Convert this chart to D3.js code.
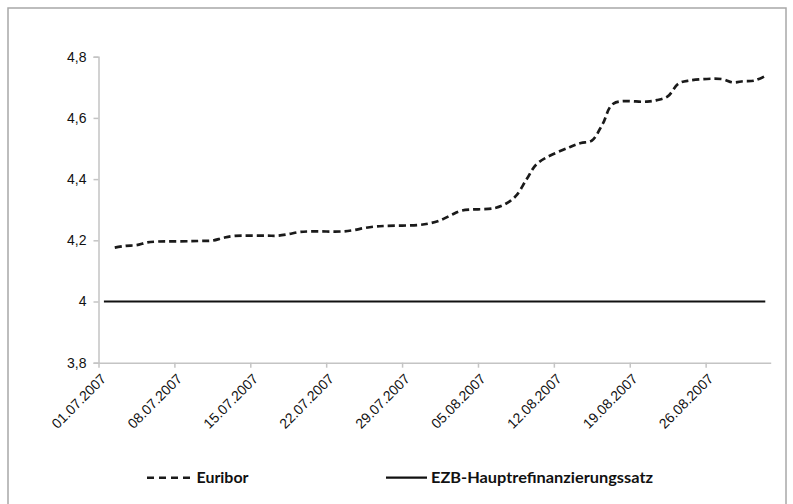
<!DOCTYPE html>
<html><head><meta charset="utf-8">
<script src="https://cdn.jsdelivr.net/npm/d3@7"></script>
<style>html,body{margin:0;padding:0;background:#fff;}svg{display:block;}</style>
</head><body>
<script>
// ---- data ----
const euriborDates = ["2007-07-02","2007-07-03","2007-07-04","2007-07-05","2007-07-06",
  "2007-07-09","2007-07-10","2007-07-11","2007-07-12","2007-07-13",
  "2007-07-16","2007-07-17","2007-07-18","2007-07-19","2007-07-20",
  "2007-07-23","2007-07-24","2007-07-25","2007-07-26","2007-07-27",
  "2007-07-30","2007-07-31","2007-08-01","2007-08-02","2007-08-03",
  "2007-08-06","2007-08-07","2007-08-08","2007-08-09","2007-08-10",
  "2007-08-13","2007-08-14","2007-08-15","2007-08-16","2007-08-17",
  "2007-08-20","2007-08-21","2007-08-22","2007-08-23","2007-08-24",
  "2007-08-27","2007-08-28","2007-08-29","2007-08-30","2007-08-31"];
const euriborValues = [4.176,4.182,4.184,4.193,4.196,
  4.197,4.198,4.199,4.208,4.214,
  4.215,4.215,4.220,4.227,4.229,
  4.229,4.233,4.240,4.245,4.247,
  4.250,4.255,4.265,4.282,4.297,
  4.305,4.318,4.345,4.400,4.452,
  4.505,4.518,4.526,4.580,4.647,
  4.653,4.658,4.670,4.712,4.722,
  4.727,4.716,4.720,4.722,4.737];
const ezbDates = ["2007-07-01","2007-08-31"];
const ezbValues = [4.0, 4.0];
const xTickDates = ["2007-07-01","2007-07-08","2007-07-15","2007-07-22","2007-07-29",
  "2007-08-05","2007-08-12","2007-08-19","2007-08-26"];
const xTickLabels = ["01.07.2007","08.07.2007","15.07.2007","22.07.2007","29.07.2007",
  "05.08.2007","12.08.2007","19.08.2007","26.08.2007"];
const yTicks = [3.8, 4.0, 4.2, 4.4, 4.6, 4.8];
const yTickLabels = ["3,8","4","4,2","4,4","4,6","4,8"];
const seriesNames = ["Euribor","EZB-Hauptrefinanzierungssatz"];
const xDomain = ["2007-07-01","2007-09-01"];

// ---- drawing ----
const W = 793, H = 504;
const svg = d3.select("body").append("svg").attr("width", W).attr("height", H);
svg.append("rect").attr("x",8).attr("y",8).attr("width",778).attr("height",510)
  .attr("fill","none").attr("stroke","#a8a8a8").attr("stroke-width",1.5);

const parse = d3.utcParse("%Y-%m-%d");
const halfDay = 12*3600*1000;
const x = d3.scaleUtc().domain(xDomain.map(parse)).range([98.5, 770.7]);
const y = d3.scaleLinear().domain([3.8, 4.8]).range([362.7, 56.7]);

const axisCol = "#c4c4c4";
const tickFont = "'Liberation Sans', Arimo, Arial, sans-serif";
// y axis
const yAx = svg.append("g").attr("transform","translate(98.5,0)")
  .call(d3.axisLeft(y).tickValues(yTicks).tickSize(5).tickPadding(7)
    .tickFormat((d,i)=>yTickLabels[i]));
yAx.attr("font-family", null);
yAx.select(".domain").attr("stroke",axisCol).attr("stroke-width",1.5);
yAx.selectAll(".tick line").attr("stroke",axisCol).attr("stroke-width",1.5);
yAx.selectAll(".tick text").style("font-family",tickFont)
  .attr("font-size",14).attr("fill","#111");

// x axis
const xAx = svg.append("g").attr("transform","translate(0,362.7)")
  .call(d3.axisBottom(x).tickValues(xTickDates.map(parse)).tickSize(5)
    .tickSizeOuter(0).tickFormat((d,i)=>xTickLabels[i]));
xAx.attr("font-family", null);
xAx.select(".domain").attr("stroke",axisCol).attr("stroke-width",1.5);
xAx.selectAll(".tick line").attr("stroke",axisCol).attr("stroke-width",1.5);
xAx.selectAll(".tick text")
  .style("font-family",tickFont).attr("font-size",14).attr("fill","#111")
  .attr("text-anchor","end").attr("x",0).attr("y",0).attr("dy","0.72em")
  .attr("transform","translate(1,10) rotate(-45)");

// lines
const ezbData = ezbDates.map((d,i)=>({t:new Date(+parse(d)+halfDay), v:ezbValues[i]}));
const eurData = euriborDates.map((d,i)=>({t:new Date(+parse(d)+halfDay), v:euriborValues[i]}));

svg.append("path").datum(ezbData)
  .attr("d", d3.line().x(d=>x(d.t)).y(d=>y(d.v)))
  .attr("fill","none").attr("stroke","#111").attr("stroke-width",2.2);

svg.append("path").datum(eurData)
  .attr("d", d3.line().x(d=>x(d.t)).y(d=>y(d.v)).curve(d3.curveCatmullRom.alpha(0.5)))
  .attr("fill","none").attr("stroke","#1a1a1a").attr("stroke-width",2.7)
  .attr("stroke-dasharray","7,4");

// legend
const legFont = "Lato, 'Open Sans', sans-serif";
const lg = svg.append("g");
lg.append("line").attr("x1",147).attr("x2",190).attr("y1",477.7).attr("y2",477.7)
  .attr("stroke","#1a1a1a").attr("stroke-width",2.6).attr("stroke-dasharray","7,5");
lg.append("text").attr("x",196.5).attr("y",482.7).text(seriesNames[0])
  .style("font-family",legFont).attr("font-weight","bold")
  .attr("font-size",15).attr("fill","#111")
  .attr("textLength",52).attr("lengthAdjust","spacingAndGlyphs");
lg.append("line").attr("x1",386).attr("x2",427).attr("y1",477.7).attr("y2",477.7)
  .attr("stroke","#111").attr("stroke-width",2.2);
lg.append("text").attr("x",431).attr("y",482.7).text(seriesNames[1])
  .style("font-family",legFont).attr("font-weight","bold")
  .attr("font-size",15).attr("fill","#111")
  .attr("textLength",222).attr("lengthAdjust","spacingAndGlyphs");
</script>
</body></html>
